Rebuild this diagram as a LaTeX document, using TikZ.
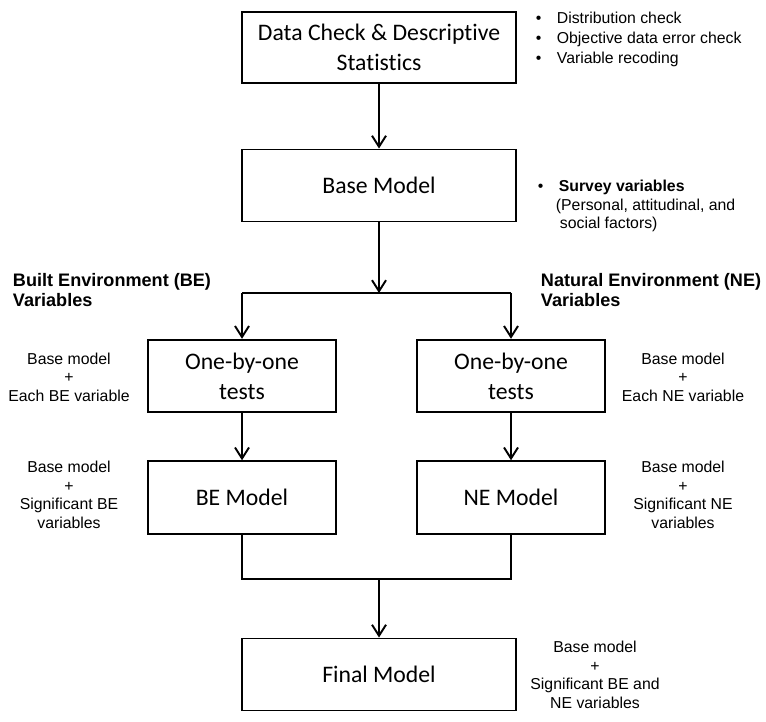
\documentclass[tikz,border=0pt]{standalone}
\usepackage{fontspec}
\setmainfont{Liberation Sans}
\newfontfamily\boxfont[Ligatures=NoCommon]{Carlito}
\usetikzlibrary{arrows.meta}
\begin{document}
\begin{tikzpicture}[x=0.02cm,y=-0.02cm,line width=1.1pt,
  >={Straight Barb[length=2.2mm,width=2.8mm]},
  stage/.style={draw,align=center,inner sep=2pt,font=\boxfont\fontsize{13.5}{17}\selectfont},
  wide/.style={stage,minimum width=5.48cm,minimum height=1.44cm},
  narrow/.style={stage,minimum width=3.76cm,minimum height=1.45cm},
  note/.style={align=center,inner sep=0pt,font=\fontsize{9}{10.5}\selectfont},
  group/.style={align=left,anchor=west,inner sep=0pt,font=\bfseries\fontsize{10.3}{11.5}\selectfont}]
\useasboundingbox (0,0) rectangle (766,722);
	\node[wide,minimum height=1.42cm] (check) at (379,47.5) {Data Check \& Descriptive\\Statistics};
	\node[wide] (base) at (379,185.5) {Base Model};
	\node[narrow] (testsBE) at (242,376) {One-by-one\\tests};
	\node[narrow] (testsNE) at (511,376) {One-by-one\\tests};
	\node[narrow] (modelBE) at (242,497.5) {BE Model};
	\node[narrow] (modelNE) at (511,497.5) {NE Model};
	\node[wide] (final) at (379,674.5) {Final Model};
	\node[anchor=west,align=left,inner sep=0pt,font=\fontsize{9}{11.6}\selectfont] (checklist) at (535,39.5)
		{\makebox[11.9pt][l]{\textbullet}Distribution check\\
		 \makebox[11.9pt][l]{\textbullet}Objective data error check\\
		 \makebox[11.9pt][l]{\textbullet}Variable recoding};
	\node[anchor=west,align=left,inner sep=0pt,font=\fontsize{9}{10.6}\selectfont] (survey) at (537,206)
		{\makebox[11.9pt][l]{\textbullet}\textbf{Survey variables}\\
		 \hspace*{10.2pt}(Personal, attitudinal, and\\
		 \hspace*{12.5pt}social factors)};
	\node[group] (builtEnv) at (12,290) {Built Environment (BE)\\Variables};
	\node[group] (naturalEnv) at (540,290) {Natural Environment (NE)\\Variables};
	\node[note] (eachBE) at (69,377) {Base model\\+\\Each BE variable};
	\node[note] (eachNE) at (683,377) {Base model\\+\\Each NE variable};
	\node[note] (sigBE) at (69,495) {Base model\\+\\Significant BE\\variables};
	\node[note] (sigNE) at (683,495) {Base model\\+\\Significant NE\\variables};
	\node[note] (sigAll) at (595,675) {Base model\\+\\Significant BE and\\NE variables};
	\coordinate (split) at (379,293);
	\coordinate (splitBE) at (242,293);
	\coordinate (splitNE) at (511,293);
	\coordinate (merge) at (379,579);
\draw[->] (check) -- (base);
\draw[->] (base) -- (split);
\draw (splitBE) -- (splitNE);
\draw[->] (splitBE) -- (testsBE);
\draw[->] (splitNE) -- (testsNE);
\draw[->] (testsBE) -- (modelBE);
\draw[->] (testsNE) -- (modelNE);
\draw (modelBE.south) |- (merge) -| (modelNE.south);
\draw[->] (merge) -- (final);
\end{tikzpicture}
\end{document}
